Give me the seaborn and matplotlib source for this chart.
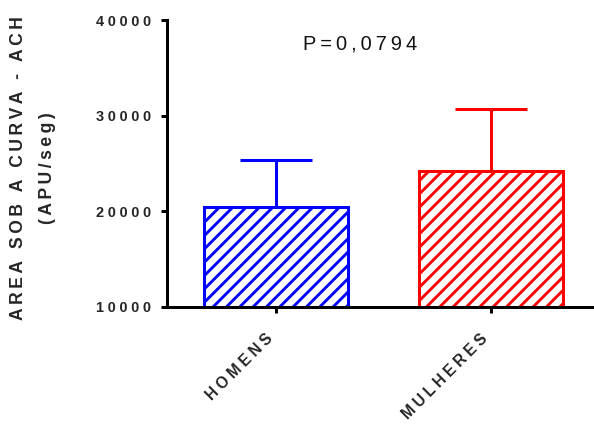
import matplotlib
matplotlib.use("Agg")
import matplotlib.pyplot as plt
import matplotlib.transforms as mtransforms
import seaborn as sns
import pandas as pd

# Group means and standard deviations (area under the ACh curve, APU/seg)
groups = ["HOMENS", "MULHERES"]
means = [20420, 24240]
sds = [4910, 6420]
colors = ["#0000FF", "#FF0000"]
y_ticks = [10000, 20000, 30000, 40000]
p_text = "P=0,0794"
y_label = ["AREA SOB A CURVA - ACH", "(APU/seg)"]

TRACK = "\u2005"   # four-per-em space used as letter tracking
THIN = "\u2009"    # thin space, slightly tighter tracking


def spaced(s, sep=TRACK):
    """Widen letter tracking by placing a narrow space between characters."""
    return sep.join(s)


sns.set_style("ticks")
plt.rcParams["font.family"] = ["Liberation Sans", "DejaVu Sans"]
plt.rcParams["hatch.linewidth"] = 2.6

DPI = 80
fig = plt.figure(figsize=(594 / DPI, 424 / DPI), dpi=DPI)
ax = fig.add_axes([167 / 594, 1 - 307 / 424, 1 - 167 / 594, (307 - 20) / 424])

df = pd.DataFrame({"group": groups, "mean": means})
sns.barplot(data=df, x="group", y="mean", hue="group", palette=colors,
            width=0.674, errorbar=None, legend=False, ax=ax)

for patch, c in zip(ax.patches, colors):
    patch.set_facecolor("white")
    patch.set_edgecolor(c)
    patch.set_linewidth(2.7)
    patch.set_hatch("//")

# Upper standard deviation whiskers
for i, (m, s, c) in enumerate(zip(means, sds, colors)):
    ax.errorbar(i, m, yerr=[[0], [s]], fmt="none", ecolor=c,
                elinewidth=2.7, capsize=32.4, capthick=2.7, zorder=1)

ax.set_ylim(y_ticks[0], y_ticks[-1])
ax.set_xlim(-0.507, 1.479)
ax.set_yticks(y_ticks)
ax.set_yticklabels([spaced(str(t)) for t in y_ticks], fontsize=13,
                   fontweight="bold")
ax.set_xticks(range(len(groups)))
ax.set_xticklabels([spaced(g) for g in groups], fontsize=14,
                   fontweight="bold", rotation=45, ha="right", va="center",
                   rotation_mode="anchor")
ax.tick_params(axis="y", length=5.5, width=2.7, pad=8.5, color="black")
ax.tick_params(axis="x", length=5.5, width=2.7, pad=21, color="black")

# nudge the slanted category labels a little to the left of their ticks
shift = mtransforms.ScaledTranslation(-5 / 72, 0, fig.dpi_scale_trans)
for lbl in ax.get_xticklabels():
    lbl.set_transform(lbl.get_transform() + shift)

ax.set_xlabel("")
ax.set_ylabel("\n".join(spaced(t, THIN) for t in y_label), fontsize=15.75,
              fontweight="bold", linespacing=1.93, ha="center")
ax.yaxis.set_label_coords(-0.26, 0.484)

for side in ("top", "right"):
    ax.spines[side].set_visible(False)
for side in ("left", "bottom"):
    ax.spines[side].set_linewidth(2.7)
    ax.spines[side].set_color("black")
    ax.spines[side].set_capstyle("projecting")

ax.text(0.39, 37480, spaced(p_text, THIN), ha="center", va="center",
        fontsize=18, color="#111111")

fig.savefig("out.png", dpi=DPI, facecolor="white")
